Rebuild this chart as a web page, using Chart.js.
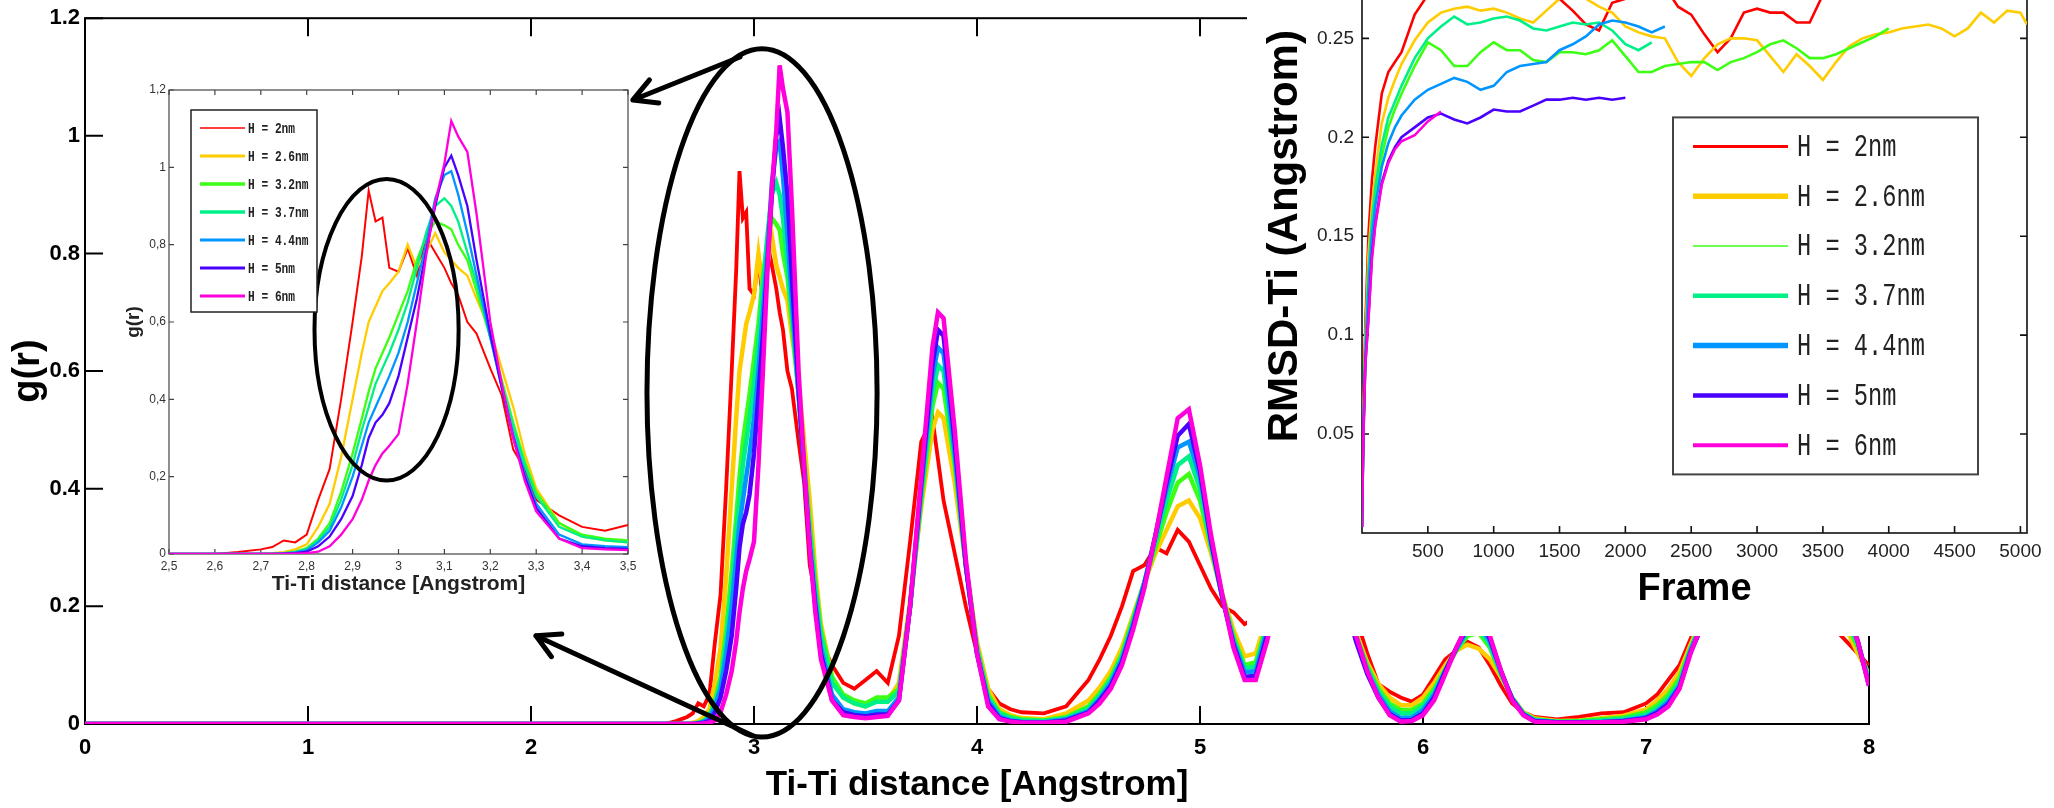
<!DOCTYPE html>
<html>
<head>
<meta charset="utf-8">
<script src="https://cdn.jsdelivr.net/npm/chart.js@4.4.0/dist/chart.umd.min.js"></script>
<style>
    html, body { margin: 0; padding: 0; background: #fff; overflow: hidden; width: 2054px; height: 808px; }
    canvas { position: absolute; }
    #main-canvas { left: 0; top: 0; }
    #inset-canvas { left: 110px; top: 70px; }
    #rmsd-canvas { left: 1247px; top: -80px; }
</style>
</head>
<body>
<canvas id="main-canvas" width="2054" height="808"></canvas>
<canvas id="inset-canvas" width="540" height="540"></canvas>
<canvas id="rmsd-canvas" width="807" height="716"></canvas>
<script>
/**==========================
       g(r) data
==========================*/

const distance = [0, 2.6,
    2.65, 2.7, 2.725, 2.75, 2.775, 2.8, 2.825, 2.85, 2.875, 2.9, 2.92, 2.935, 2.95, 2.965, 2.98, 3.0, 3.02, 3.04, 3.06, 3.08, 3.1, 3.115, 3.13, 3.15, 3.17, 3.2, 3.225, 3.25, 3.275, 3.3, 3.35, 3.4, 3.45, 3.5,
    3.55, 3.6, 3.65, 3.7, 3.75, 3.8, 3.825, 3.85, 3.9, 3.95, 4.0, 4.05, 4.1, 4.15,
    4.2, 4.3, 4.4,
    4.5, 4.55, 4.6, 4.65, 4.7, 4.75, 4.8, 4.85, 4.9, 4.95, 5.0, 5.05, 5.1, 5.15, 5.2, 5.25, 5.3, 5.35, 5.4,
    5.5, 5.6, 5.65, 5.7, 5.75, 5.8, 5.85, 5.9, 5.95, 6.0, 6.05, 6.1, 6.15, 6.2, 6.25, 6.3, 6.35, 6.4, 6.45, 6.5,
    6.6, 6.7, 6.8, 6.9, 7.0, 7.05, 7.1, 7.15, 7.2, 7.25, 7.3, 7.4, 7.5, 7.6, 7.7, 7.75, 7.8, 7.85, 7.9, 7.95, 8.0];

const gr_2nm = [0, 0,
    0.005, 0.012, 0.018, 0.035, 0.03, 0.05, 0.14, 0.22, 0.4, 0.6, 0.77, 0.94, 0.86, 0.87, 0.74, 0.73, 0.79, 0.72, 0.82, 0.78, 0.74, 0.7, 0.67, 0.6, 0.57, 0.48, 0.41, 0.27, 0.22, 0.14, 0.1, 0.07, 0.06, 0.075,
    0.09, 0.07, 0.15, 0.31, 0.48, 0.52, 0.45, 0.38, 0.29, 0.2, 0.12, 0.06, 0.035, 0.025,
    0.02, 0.018, 0.03,
    0.075, 0.11, 0.15, 0.2, 0.26, 0.27, 0.3, 0.29, 0.33, 0.31, 0.27, 0.23, 0.2, 0.19, 0.17, 0.18, 0.2, 0.23, 0.26,
    0.29, 0.26, 0.22, 0.18, 0.12, 0.068, 0.055, 0.045, 0.038, 0.05, 0.08, 0.11, 0.125, 0.14, 0.13, 0.1, 0.065, 0.035, 0.02, 0.012,
    0.008, 0.012, 0.018, 0.02, 0.035, 0.05, 0.075, 0.1, 0.145, 0.19, 0.24, 0.33, 0.38, 0.37, 0.3, 0.25, 0.2, 0.16, 0.14, 0.12, 0.1];

const gr_2_6nm = [0, 0,
    0, 0, 0.002, 0.005, 0.012, 0.025, 0.07, 0.13, 0.25, 0.4, 0.52, 0.6, 0.64, 0.68, 0.7, 0.73, 0.8, 0.74, 0.78, 0.83, 0.78, 0.76, 0.74, 0.72, 0.66, 0.58, 0.48, 0.38, 0.26, 0.17, 0.08, 0.045, 0.035, 0.03,
    0.04, 0.04, 0.07, 0.21, 0.37, 0.5, 0.53, 0.52, 0.41, 0.27, 0.14, 0.06, 0.025, 0.015,
    0.01, 0.008, 0.018,
    0.04, 0.062, 0.09, 0.13, 0.185, 0.24, 0.29, 0.33, 0.37, 0.38, 0.35, 0.29, 0.22, 0.16, 0.115, 0.12, 0.18, 0.24, 0.3,
    0.33, 0.27, 0.21, 0.155, 0.105, 0.068, 0.045, 0.032, 0.032, 0.045, 0.07, 0.1, 0.125, 0.135, 0.128, 0.11, 0.08, 0.045, 0.02, 0.01,
    0.005, 0.006, 0.01, 0.014, 0.025, 0.04, 0.06, 0.088, 0.135, 0.18, 0.24, 0.36, 0.44, 0.45, 0.38, 0.32, 0.26, 0.2, 0.16, 0.12, 0.085];

const gr_3_2nm = [0, 0,
    0, 0, 0, 0.002, 0.006, 0.015, 0.04, 0.08, 0.16, 0.26, 0.35, 0.42, 0.48, 0.52, 0.56, 0.62, 0.68, 0.76, 0.82, 0.86, 0.85, 0.84, 0.8, 0.76, 0.68, 0.56, 0.45, 0.34, 0.24, 0.16, 0.08, 0.05, 0.04, 0.035,
    0.045, 0.045, 0.06, 0.2, 0.38, 0.54, 0.58, 0.57, 0.44, 0.27, 0.13, 0.05, 0.02, 0.012,
    0.008, 0.006, 0.012,
    0.03, 0.052, 0.08, 0.12, 0.18, 0.24, 0.3, 0.36, 0.41, 0.425, 0.38, 0.3, 0.22, 0.15, 0.1, 0.105, 0.17, 0.24, 0.31,
    0.35, 0.28, 0.21, 0.15, 0.1, 0.06, 0.035, 0.024, 0.024, 0.035, 0.06, 0.093, 0.125, 0.15, 0.155, 0.13, 0.083, 0.044, 0.019, 0.008,
    0.004, 0.005, 0.008, 0.011, 0.02, 0.032, 0.05, 0.078, 0.13, 0.175, 0.24, 0.38, 0.47, 0.49, 0.42, 0.35, 0.28, 0.21, 0.17, 0.13, 0.08];

const gr_3_7nm = [0, 0,
    0, 0, 0, 0.002, 0.005, 0.013, 0.035, 0.07, 0.14, 0.23, 0.32, 0.38, 0.44, 0.48, 0.52, 0.58, 0.65, 0.74, 0.83, 0.9, 0.92, 0.9, 0.86, 0.78, 0.7, 0.56, 0.44, 0.33, 0.23, 0.15, 0.07, 0.045, 0.035, 0.03,
    0.038, 0.038, 0.055, 0.2, 0.39, 0.56, 0.61, 0.6, 0.45, 0.27, 0.13, 0.045, 0.018, 0.01,
    0.006, 0.005, 0.01,
    0.026, 0.048, 0.075, 0.115, 0.175, 0.24, 0.31, 0.38, 0.44, 0.455, 0.4, 0.3, 0.215, 0.145, 0.095, 0.098, 0.165, 0.24, 0.31,
    0.36, 0.28, 0.21, 0.15, 0.095, 0.055, 0.03, 0.018, 0.018, 0.03, 0.055, 0.092, 0.127, 0.155, 0.162, 0.135, 0.085, 0.044, 0.018, 0.007,
    0.004, 0.004, 0.006, 0.009, 0.016, 0.027, 0.044, 0.07, 0.128, 0.172, 0.24, 0.39, 0.5, 0.52, 0.45, 0.38, 0.3, 0.23, 0.18, 0.135, 0.075];

const gr_4_4nm = [0, 0,
    0, 0, 0, 0.001, 0.004, 0.01, 0.03, 0.06, 0.12, 0.2, 0.28, 0.34, 0.38, 0.42, 0.46, 0.52, 0.6, 0.7, 0.8, 0.92, 0.98, 0.99, 0.93, 0.83, 0.72, 0.56, 0.43, 0.31, 0.21, 0.13, 0.05, 0.025, 0.02, 0.018,
    0.022, 0.022, 0.045, 0.2, 0.4, 0.59, 0.64, 0.63, 0.46, 0.27, 0.12, 0.04, 0.013, 0.006,
    0.004, 0.003, 0.008,
    0.022, 0.043, 0.07, 0.11, 0.17, 0.24, 0.32, 0.4, 0.47, 0.48, 0.42, 0.31, 0.215, 0.14, 0.088, 0.09, 0.16, 0.24, 0.32,
    0.37, 0.29, 0.21, 0.145, 0.09, 0.05, 0.022, 0.01, 0.011, 0.024, 0.05, 0.09, 0.128, 0.16, 0.17, 0.14, 0.088, 0.043, 0.017, 0.006,
    0.003, 0.003, 0.004, 0.006, 0.012, 0.022, 0.038, 0.065, 0.125, 0.17, 0.24, 0.4, 0.53, 0.55, 0.48, 0.41, 0.33, 0.25, 0.19, 0.14, 0.07];

const gr_5nm = [0, 0,
    0, 0, 0, 0.001, 0.002, 0.006, 0.02, 0.045, 0.09, 0.15, 0.23, 0.3, 0.34, 0.36, 0.39, 0.46, 0.56, 0.66, 0.78, 0.9, 1.0, 1.03, 0.98, 0.9, 0.76, 0.57, 0.43, 0.3, 0.2, 0.12, 0.04, 0.02, 0.015, 0.013,
    0.016, 0.016, 0.04, 0.2, 0.41, 0.61, 0.67, 0.66, 0.48, 0.27, 0.12, 0.035, 0.01, 0.005,
    0.003, 0.002, 0.006,
    0.02, 0.04, 0.065, 0.105, 0.165, 0.235, 0.32, 0.41, 0.49, 0.51, 0.43, 0.31, 0.215, 0.135, 0.08, 0.082, 0.15, 0.23, 0.32,
    0.38, 0.29, 0.21, 0.14, 0.085, 0.045, 0.017, 0.006, 0.007, 0.018, 0.045, 0.09, 0.13, 0.165, 0.18, 0.145, 0.09, 0.042, 0.016, 0.005,
    0.003, 0.003, 0.003, 0.005, 0.01, 0.019, 0.034, 0.062, 0.122, 0.165, 0.24, 0.41, 0.55, 0.57, 0.5, 0.43, 0.35, 0.27, 0.2, 0.14, 0.065];

const gr_6nm = [0, 0,
    0, 0, 0, 0, 0.001, 0.002, 0.006, 0.02, 0.05, 0.09, 0.14, 0.19, 0.23, 0.26, 0.28, 0.31, 0.44, 0.6, 0.77, 0.91, 1.01, 1.12, 1.08, 1.04, 0.88, 0.6, 0.44, 0.3, 0.19, 0.11, 0.04, 0.015, 0.012, 0.01,
    0.012, 0.014, 0.04, 0.2, 0.42, 0.64, 0.7, 0.69, 0.5, 0.28, 0.12, 0.03, 0.008, 0.004,
    0.002, 0.002, 0.004,
    0.018, 0.035, 0.06, 0.1, 0.16, 0.23, 0.32, 0.42, 0.52, 0.535, 0.44, 0.32, 0.22, 0.13, 0.075, 0.075, 0.14, 0.22, 0.3,
    0.38, 0.3, 0.22, 0.15, 0.09, 0.045, 0.015, 0.004, 0.005, 0.015, 0.04, 0.085, 0.13, 0.17, 0.19, 0.15, 0.09, 0.04, 0.015, 0.004,
    0.002, 0.002, 0.003, 0.004, 0.008, 0.016, 0.03, 0.06, 0.12, 0.17, 0.25, 0.42, 0.55, 0.58, 0.5, 0.43, 0.35, 0.27, 0.2, 0.14, 0.065];

/**==========================
       RMSD data
==========================*/

const frames = [0, 10, 25, 50, 75, 100, 150, 200, 250, 300, 400,
    500, 600, 700, 800, 900, 1000, 1100, 1200, 1300, 1400, 1500, 1600, 1700, 1800, 1900, 2000,
    2100, 2200, 2300, 2400, 2500, 2600, 2700, 2800, 2900, 3000,
    3100, 3200, 3300, 3400, 3500, 3600, 3700, 3800, 3900, 4000,
    4100, 4200, 4300, 4400, 4500, 4600, 4700, 4800, 4900, 5000, 5050];

const rmsd_2nm = [0.003, 0.06, 0.105, 0.152, 0.178, 0.195, 0.222, 0.233, 0.238, 0.243, 0.262,
    0.272, 0.278, 0.28, 0.282, 0.28, 0.283, 0.285, 0.28, 0.278, 0.276, 0.27, 0.264, 0.257, 0.254, 0.268, 0.27,
    0.275, 0.28, 0.276, 0.266, 0.262, 0.252, 0.243, 0.25, 0.263, 0.265,
    0.263, 0.263, 0.258, 0.258, 0.272];

const rmsd_2_6nm = [0.003, 0.055, 0.098, 0.142, 0.165, 0.181, 0.207, 0.22, 0.229, 0.237, 0.249,
    0.258, 0.263, 0.265, 0.266, 0.264, 0.265, 0.263, 0.26, 0.258, 0.264, 0.27, 0.272, 0.27, 0.266, 0.263, 0.256,
    0.253, 0.251, 0.25, 0.238, 0.231, 0.24, 0.247, 0.25, 0.25, 0.249,
    0.241, 0.233, 0.242, 0.236, 0.229, 0.238, 0.246, 0.25, 0.252, 0.253,
    0.255, 0.256, 0.257, 0.255, 0.251, 0.255, 0.263, 0.258, 0.264, 0.263, 0.257];

const rmsd_3_2nm = [0.003, 0.05, 0.09, 0.13, 0.155, 0.17, 0.19, 0.205, 0.214, 0.222, 0.236,
    0.248, 0.244, 0.236, 0.236, 0.243, 0.248, 0.244, 0.244, 0.239, 0.238, 0.243, 0.243, 0.242, 0.244, 0.249, 0.241,
    0.233, 0.233, 0.236, 0.237, 0.238, 0.238, 0.234, 0.238, 0.24, 0.243,
    0.247, 0.249, 0.245, 0.24, 0.24, 0.242, 0.245, 0.248, 0.251, 0.255];

const rmsd_3_7nm = [0.003, 0.052, 0.092, 0.133, 0.158, 0.174, 0.196, 0.21, 0.218, 0.226, 0.24,
    0.25, 0.256, 0.261, 0.257, 0.258, 0.26, 0.261, 0.259, 0.255, 0.254, 0.256, 0.258, 0.257, 0.258, 0.254, 0.247,
    0.244, 0.248];

const rmsd_4_4nm = [0.003, 0.05, 0.088, 0.125, 0.15, 0.165, 0.185, 0.197, 0.205, 0.211, 0.219,
    0.224, 0.227, 0.23, 0.228, 0.224, 0.226, 0.233, 0.236, 0.237, 0.238, 0.244, 0.247, 0.251, 0.257, 0.259, 0.258,
    0.256, 0.253, 0.256];

const rmsd_5nm = [0.003, 0.048, 0.085, 0.11, 0.14, 0.156, 0.177, 0.188, 0.195, 0.2, 0.205,
    0.21, 0.212, 0.209, 0.207, 0.21, 0.214, 0.213, 0.213, 0.216, 0.219, 0.219, 0.22, 0.219, 0.22, 0.219, 0.22];

const rmsd_6nm = [0.003, 0.047, 0.085, 0.109, 0.138, 0.155, 0.176, 0.187, 0.194, 0.198, 0.201,
    0.208, 0.213];

/**==========================
       labels and ticks
==========================*/

const series_labels = ['H = 2nm', 'H = 2.6nm', 'H = 3.2nm', 'H = 3.7nm', 'H = 4.4nm', 'H = 5nm', 'H = 6nm'];
const series_colours = ['#ff0000', '#ffcc00', '#3cff14', '#00f088', '#0095ff', '#4a00ff', '#ff00dd'];

const main_x_ticks = [0, 1, 2, 3, 4, 5, 6, 7, 8];
const main_y_ticks = [0, 0.2, 0.4, 0.6, 0.8, 1, 1.2];
const main_y_labels = ['0', '0.2', '0.4', '0.6', '0.8', '1', '1.2'];

const inset_x_ticks = [2.5, 2.6, 2.7, 2.8, 2.9, 3.0, 3.1, 3.2, 3.3, 3.4, 3.5];
const inset_x_labels = ['2,5', '2,6', '2,7', '2,8', '2,9', '3', '3,1', '3,2', '3,3', '3,4', '3,5'];
const inset_y_ticks = [0, 0.2, 0.4, 0.6, 0.8, 1, 1.2];
const inset_y_labels = ['0', '0,2', '0,4', '0,6', '0,8', '1', '1,2'];

const rmsd_x_ticks = [500, 1000, 1500, 2000, 2500, 3000, 3500, 4000, 4500, 5000];
const rmsd_x_labels = ['500', '1000', '1500', '2000', '2500', '3000', '3500', '4000', '4500', '5000'];
const rmsd_y_ticks = [0.05, 0.1, 0.15, 0.2, 0.25];
const rmsd_y_labels = ['0.05', '0.1', '0.15', '0.2', '0.25'];

const gr_series = [gr_2nm, gr_2_6nm, gr_3_2nm, gr_3_7nm, gr_4_4nm, gr_5nm, gr_6nm];
const rmsd_series = [rmsd_2nm, rmsd_2_6nm, rmsd_3_2nm, rmsd_3_7nm, rmsd_4_4nm, rmsd_5nm, rmsd_6nm];

gr_series.forEach((s, i) => {
    if (s.length !== distance.length) console.warn('g(r) series ' + i + ' has ' + s.length + ' values');
});

Chart.defaults.font.family = "'Liberation Sans', Arial, sans-serif";
Chart.defaults.color = '#000';

/**==========================
       plugins
==========================*/

// white sheet behind a chart panel
const paper = {
    id: 'paper',
    beforeDraw(chart, args, opts) {
        if (!opts.fill) return;
        let ctx = chart.ctx;
        ctx.save();
        ctx.fillStyle = opts.fill;
        ctx.fillRect(0, 0, chart.width, chart.height);
        ctx.restore();
    }
};

// matlab-like box with inward ticks
const box_ticks = {
    id: 'box_ticks',
    beforeDatasetsDraw(chart, args, opts) {
        let ctx = chart.ctx;
        let a = chart.chartArea;
        let x = chart.scales.x;
        let y = chart.scales.y;

        ctx.save();
        ctx.strokeStyle = opts.colour;
        ctx.lineWidth = opts.width;
        ctx.strokeRect(a.left, a.top, a.right - a.left, a.bottom - a.top);

        ctx.beginPath();
        x.ticks.forEach(t => {
            let px = x.getPixelForValue(t.value);
            ctx.moveTo(px, a.bottom);
            ctx.lineTo(px, a.bottom - opts.len);
            ctx.moveTo(px, a.top);
            ctx.lineTo(px, a.top + opts.len);
        });
        y.ticks.forEach(t => {
            let py = y.getPixelForValue(t.value);
            ctx.moveTo(a.left, py);
            ctx.lineTo(a.left + opts.len, py);
            ctx.moveTo(a.right, py);
            ctx.lineTo(a.right - opts.len, py);
        });
        ctx.stroke();
        ctx.restore();
    }
};

// legend box drawn from the datasets
const legend_box = {
    id: 'legend_box',
    afterDraw(chart, args, o) {
        if (!o.w) return;
        let ctx = chart.ctx;
        let a = chart.chartArea;
        let bx = a.left + o.x;
        let by = a.top + o.y;

        ctx.save();
        ctx.fillStyle = '#fff';
        ctx.fillRect(bx, by, o.w, o.h);
        ctx.strokeStyle = o.border;
        ctx.lineWidth = o.border_width;
        ctx.strokeRect(bx, by, o.w, o.h);

        ctx.font = o.font;
        ctx.textBaseline = 'middle';
        chart.data.datasets.forEach((ds, i) => {
            let ry = by + o.first + i * o.gap;
            ctx.strokeStyle = ds.borderColor;
            ctx.lineWidth = o.widths[i];
            ctx.beginPath();
            ctx.moveTo(bx + o.line_from, ry);
            ctx.lineTo(bx + o.line_to, ry);
            ctx.stroke();

            ctx.save();
            ctx.fillStyle = o.text_colour;
            ctx.translate(bx + o.text_x, ry + 1);
            ctx.scale(o.squeeze, 1);
            ctx.fillText(ds.label, 0, 0);
            ctx.restore();
        });
        ctx.restore();
    }
};

// ellipses and arrows, placed in data units
const marks = {
    id: 'marks',
    afterDatasetsDraw(chart, args, o) {
        let ctx = chart.ctx;
        let x = chart.scales.x;
        let y = chart.scales.y;

        ctx.save();
        ctx.strokeStyle = '#000';
        ctx.lineCap = 'round';
        ctx.lineJoin = 'round';

        (o.ellipses || []).forEach(e => {
            let cx = x.getPixelForValue(e.cx);
            let cy = y.getPixelForValue(e.cy);
            let rx = Math.abs(x.getPixelForValue(e.cx + e.rx) - cx);
            let ry = Math.abs(y.getPixelForValue(e.cy + e.ry) - cy);
            ctx.lineWidth = e.width;
            ctx.beginPath();
            ctx.ellipse(cx, cy, rx, ry, 0, 0, Math.PI * 2);
            ctx.stroke();
        });

        (o.arrows || []).forEach(ar => {
            let x1 = x.getPixelForValue(ar.from[0]);
            let y1 = y.getPixelForValue(ar.from[1]);
            let x2 = x.getPixelForValue(ar.to[0]);
            let y2 = y.getPixelForValue(ar.to[1]);
            let ang = Math.atan2(y2 - y1, x2 - x1);
            ctx.lineWidth = ar.width;
            ctx.beginPath();
            ctx.moveTo(x1, y1);
            ctx.lineTo(x2, y2);
            [-1, 1].forEach(s => {
                ctx.moveTo(x2, y2);
                ctx.lineTo(x2 - ar.head * Math.cos(ang + s * 0.5), y2 - ar.head * Math.sin(ang + s * 0.5));
            });
            ctx.stroke();
        });
        ctx.restore();
    }
};

/**==========================
       helpers
==========================*/

function gr_datasets(width) {
    return gr_series.map((s, i) => ({
        label: series_labels[i],
        data: distance.map((d, j) => ({x: d, y: s[j]})),
        borderColor: series_colours[i],
        borderWidth: i === 0 ? width * 0.85 : width,
        pointRadius: 0,
        tension: 0,
        order: gr_series.length - i
    }));
}

function rmsd_datasets() {
    return rmsd_series.map((s, i) => ({
        label: series_labels[i],
        data: s.map((v, j) => ({x: frames[j], y: v})),
        borderColor: series_colours[i],
        borderWidth: 2.6,
        pointRadius: 0,
        tension: 0,
        order: rmsd_series.length - i
    }));
}

function fixed_ticks(values) {
    return scale => { scale.ticks = values.map(v => ({value: v})); };
}

const no_grid = {display: false, drawTicks: false};

/**==========================
       main g(r) chart
==========================*/

new Chart(document.getElementById('main-canvas'), {
    type: 'line',
    data: {datasets: gr_datasets(4.5)},
    options: {
        responsive: false,
        animation: false,
        layout: {padding: {left: 0, top: 18, right: 185, bottom: 0}},
        scales: {
            x: {
                type: 'linear', min: 0, max: 8,
                afterBuildTicks: fixed_ticks(main_x_ticks),
                afterFit: s => { s.height = 84; },
                grid: no_grid, border: {display: false},
                ticks: {font: {size: 22, weight: 'bold'}, padding: 11, maxRotation: 0, color: '#000'},
                title: {display: true, text: 'Ti-Ti distance [Angstrom]', font: {size: 35, weight: 'bold'}, padding: {top: 0, bottom: 2}, color: '#000'}
            },
            y: {
                type: 'linear', min: 0, max: 1.2,
                afterBuildTicks: fixed_ticks(main_y_ticks),
                afterFit: s => { s.width = 85; },
                grid: no_grid, border: {display: false},
                ticks: {font: {size: 22, weight: 'bold'}, padding: 5, color: '#000', callback: (v, i) => main_y_labels[i]},
                title: {display: true, text: 'g(r)', font: {size: 38, weight: 'bold'}, padding: {top: 6, bottom: 0}, color: '#000'}
            }
        },
        plugins: {
            legend: {display: false},
            tooltip: {enabled: false},
            box_ticks: {colour: '#000', width: 2, len: 18},
            marks: {
                ellipses: [{cx: 3.036, cy: 0.563, rx: 0.516, ry: 0.585, width: 5}],
                arrows: [
                    {from: [2.937, 1.134], to: [2.457, 1.061], width: 5, head: 26},
                    {from: [2.99, -0.019], to: [2.022, 0.15], width: 5, head: 26}
                ]
            }
        }
    },
    plugins: [box_ticks, marks]
});

/**==========================
       inset zoom chart
==========================*/

new Chart(document.getElementById('inset-canvas'), {
    type: 'line',
    data: {datasets: gr_datasets(2.3)},
    options: {
        responsive: false,
        animation: false,
        layout: {padding: {left: 0, top: 20, right: 22, bottom: 0}},
        scales: {
            x: {
                type: 'linear', min: 2.5, max: 3.5,
                afterBuildTicks: fixed_ticks(inset_x_ticks),
                afterFit: s => { s.height = 56; },
                grid: no_grid, border: {display: false},
                ticks: {font: {size: 12}, padding: 5, maxRotation: 0, color: '#333', callback: (v, i) => inset_x_labels[i]},
                title: {display: true, text: 'Ti-Ti distance [Angstrom]', font: {size: 21, weight: 'bold'}, padding: {top: 0, bottom: 13}, color: '#222'}
            },
            y: {
                type: 'linear', min: 0, max: 1.2,
                afterBuildTicks: fixed_ticks(inset_y_ticks),
                afterFit: s => { s.width = 59; },
                grid: no_grid, border: {display: false},
                ticks: {font: {size: 12}, padding: 3, color: '#333', callback: (v, i) => inset_y_labels[i]},
                title: {display: true, text: 'g(r)', font: {size: 19, weight: 'bold'}, padding: {top: 12, bottom: 0}, color: '#222'}
            }
        },
        plugins: {
            legend: {display: false},
            tooltip: {enabled: false},
            box_ticks: {colour: '#444', width: 1.2, len: 5},
            legend_box: {
                x: 22, y: 20, w: 126, h: 202, first: 18, gap: 28,
                line_from: 9, line_to: 54, text_x: 57,
                font: "bold 14px 'Liberation Mono', monospace", squeeze: 0.8, text_colour: '#222',
                widths: [1.5, 3, 3.5, 3.5, 3, 3, 3],
                border: '#222', border_width: 1.5
            },
            marks: {
                ellipses: [{cx: 2.974, cy: 0.58, rx: 0.157, ry: 0.39, width: 4}]
            }
        }
    },
    plugins: [box_ticks, marks, legend_box]
});

/**==========================
       RMSD chart
==========================*/

new Chart(document.getElementById('rmsd-canvas'), {
    type: 'line',
    data: {datasets: rmsd_datasets()},
    options: {
        responsive: false,
        animation: false,
        layout: {padding: {left: 0, top: 13, right: 27, bottom: 0}},
        scales: {
            x: {
                type: 'linear', min: 0, max: 5050,
                afterBuildTicks: fixed_ticks(rmsd_x_ticks),
                afterFit: s => { s.height = 103; },
                grid: no_grid, border: {display: false},
                ticks: {font: {size: 19}, padding: 7, maxRotation: 0, color: '#222', callback: (v, i) => rmsd_x_labels[i]},
                title: {display: true, text: 'Frame', font: {size: 38, weight: 'bold'}, padding: {top: 0, bottom: 24}, color: '#000'}
            },
            y: {
                type: 'linear', min: 0, max: 0.3,
                afterBuildTicks: fixed_ticks(rmsd_y_ticks),
                afterFit: s => { s.width = 115; },
                grid: no_grid, border: {display: false},
                ticks: {font: {size: 19}, padding: 8, color: '#222', callback: (v, i) => rmsd_y_labels[i]},
                title: {display: true, text: 'RMSD-Ti (Angstrom)', font: {size: 42, weight: 'bold'}, padding: {top: 13, bottom: 0}, color: '#000'}
            }
        },
        plugins: {
            legend: {display: false},
            tooltip: {enabled: false},
            paper: {fill: '#fff'},
            box_ticks: {colour: '#111', width: 1.6, len: 7},
            legend_box: {
                x: 311, y: 178, w: 305, h: 357, first: 29, gap: 49.8,
                line_from: 20, line_to: 115, text_x: 124,
                font: "32px 'Liberation Mono', monospace", squeeze: 0.74, text_colour: '#222',
                widths: [3, 5.5, 1.6, 4.5, 5.5, 4.5, 4],
                border: '#444', border_width: 2
            }
        }
    },
    plugins: [paper, box_ticks, legend_box]
});
</script>
</body>
</html>
